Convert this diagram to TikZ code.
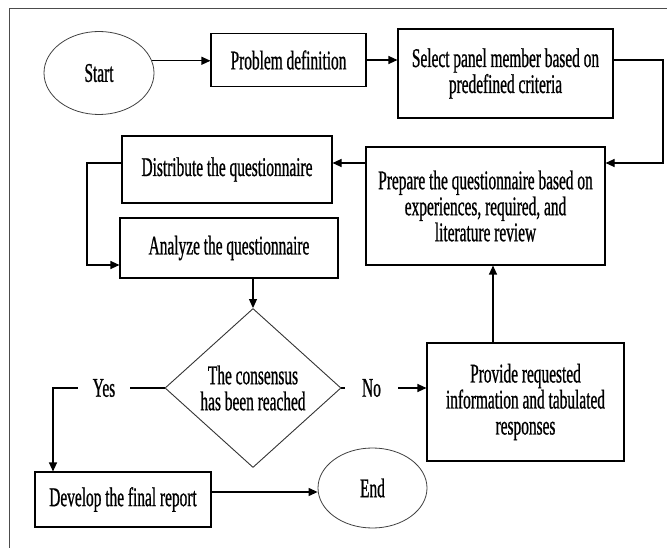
\documentclass[tikz,border=0pt]{standalone}
\usepackage{fontspec}
\setmainfont[FakeStretch=0.57,FakeBold=0.8]{Liberation Serif}
\usetikzlibrary{arrows.meta,shapes.geometric}

\tikzset{
  box/.style={draw,rectangle,line width=1.1pt,inner sep=0pt,align=center},
  term/.style={draw,ellipse,line width=0.8pt,draw=black!75,inner sep=0pt},
  choice/.style={draw,diamond,line width=0.9pt,draw=black!80,inner sep=0pt,align=center},
  lbl/.style={inner sep=0pt},
  arr/.style={line width=1.1pt,-{Triangle[length=9pt,width=8pt]}},
  lnk/.style={line width=1.1pt},
}

\begin{document}
\begin{tikzpicture}[x=1pt,y=-1pt,font=\fontsize{27}{26}\selectfont]
  \useasboundingbox (0,0) rectangle (667,548);
  % outer frame
  \draw[line width=1pt,black!70] (9,548) -- (9,9) -- (667,9);
  % start / end
  \node[term,minimum width=110pt,minimum height=83pt] (start) at (99,73) {Start};
  \node[term,minimum width=109pt,minimum height=80pt] (end) at (372.5,488) {End};
  % steps
  \node[box,minimum width=155pt,minimum height=53pt] (prob) at (288.5,60) {Problem definition};
  \node[box,minimum width=215pt,minimum height=89pt] (sel) at (505.5,73.5) {Select panel member based on\\predefined criteria};
  \node[box,minimum width=239pt,minimum height=118pt] (prep) at (485.5,206) {Prepare the questionnaire based on\\experiences, required, and\\literature review};
  \node[box,minimum width=210pt,minimum height=67pt] (dist) at (227,169.5) {Distribute the questionnaire};
  \node[box,minimum width=218pt,minimum height=60pt] (ana) at (229,248) {Analyze the questionnaire};
  \node[choice,minimum width=176pt,minimum height=159pt] (dec) at (253,388) {The consensus\\has been reached};
  \node[box,minimum width=197pt,minimum height=118pt] (prov) at (525.5,402) {Provide requested\\information and tabulated\\responses};
  \node[box,minimum width=176pt,minimum height=55pt] (dev) at (123,499.5) {Develop the final report};
  % branch labels
  \node[lbl,minimum width=52pt] (yes) at (104,388) {Yes};
  \node[lbl,minimum width=53pt] (no) at (371.5,388) {No};
  % bend points
  \coordinate (c1) at (663,163);
  \coordinate (c2) at (87,265);
  \coordinate (c3) at (53,388);
  \coordinate (c4) at (493,343);
  % connectors
  \draw[arr] (start.13) -- (start.13 -| prob.west);
  \draw[arr] (prob.east) -- (prob.east -| sel.west);
  \draw[arr] (prob.east -| sel.east) -- (prob.east -| c1) -- (c1) -- (c1 -| prep.east);
  \draw[arr] (c1 -| prep.west) -- (c1 -| dist.east);
  \draw[arr] (c1 -| dist.west) -| (c2) -- (c2 -| ana.west);
  \draw[arr] (ana.south -| dec.north) -- (dec.north);
  \draw[lnk] (dec.west) -- (yes.east);
  \draw[arr] (yes.west) -- (c3) -- (c3 |- dev.north);
  \draw[lnk] (dec.east) -- (no.west);
  \draw[arr] (no.east) -- (no.east -| prov.west);
  \draw[arr] (c4) -- (c4 |- prep.south);
  \draw[arr] (dev.east |- 0,492) -- (end.west |- 0,492);
\end{tikzpicture}
\end{document}
